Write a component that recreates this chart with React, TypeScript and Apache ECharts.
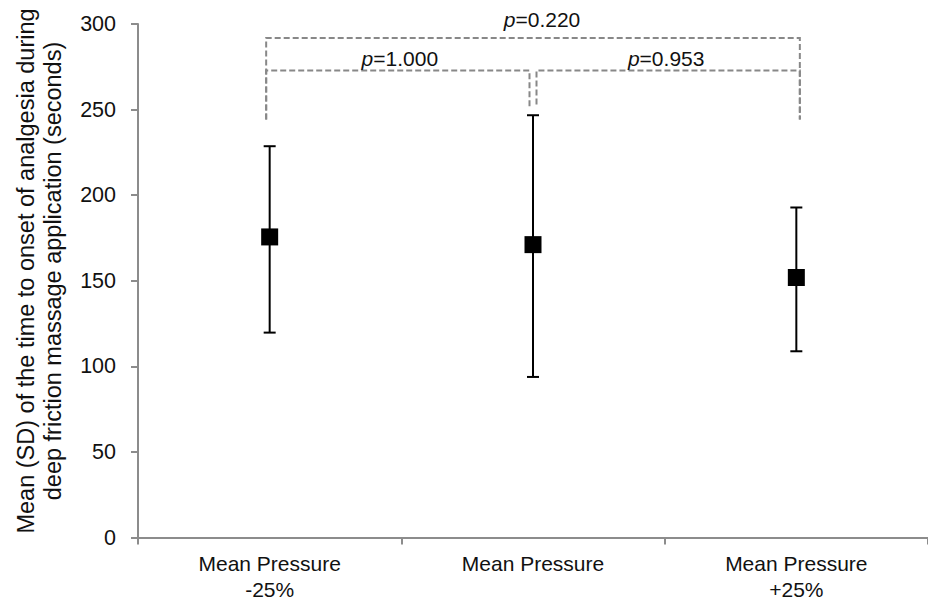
import React, { useEffect, useRef } from "react";
import * as echarts from "echarts";

// ---- data ----
const categories = ["Mean Pressure\n-25%", "Mean Pressure", "Mean Pressure\n+25%"];
const means = [175.6, 171.1, 151.9];
const lows = [119.7, 93.8, 108.8];
const highs = [228.6, 246.7, 192.8];

const yMin = 0;
const yMax = 300;
const yInterval = 50;

// comparison brackets
const bracketFrom = [0, 1, 0];
const bracketTo = [1, 2, 2];
const bracketLevels = [272.8, 272.8, 291.8];
const bracketLeftEnds = [244.2, 252.9, 244.2];
const bracketRightEnds = [251.5, 244.2, 244.2];
const bracketPValues = ["1.000", "0.953", "0.220"];

const yAxisTitle = [
  "Mean (SD) of the time to onset of analgesia during",
  "deep friction massage application (seconds)",
];

// ---- styles ----
const FONT = "'Liberation Sans', Arial, Helvetica, sans-serif";
const TEXT = "#111111";
const AXIS = "#8c8c8c";
const DASH = "#888888";
const legOffsets = [
  [-3.5, -3.5],
  [3.5, 3.5],
  [-3.5, 3.5],
];
const labelShift = [
  [2, -12],
  [-2, -12],
  [9, -19],
];

export default function App() {
  const ref = useRef<HTMLDivElement>(null);

  useEffect(() => {
    if (!ref.current) return;
    const chart = echarts.init(ref.current, null, { renderer: "svg" });

    const errData = categories.map((_, i) => [i, lows[i], highs[i]]);
    const bracketData = bracketFrom.map((f, i) => [
      f,
      bracketTo[i],
      bracketLevels[i],
      bracketLeftEnds[i],
      bracketRightEnds[i],
      i,
    ]);

    const option: any = {
      animation: false,
      backgroundColor: "#ffffff",
      grid: { left: 138, top: 24, height: 513.5, width: 803.5, containLabel: false },
      xAxis: {
        type: "category",
        data: categories,
        boundaryGap: true,
        axisLine: { show: true, lineStyle: { color: AXIS, width: 2 } },
        axisTick: { show: true, length: 7, lineStyle: { color: AXIS, width: 2 } },
        axisLabel: {
          interval: 0,
          fontSize: 21,
          lineHeight: 26,
          fontFamily: FONT,
          color: TEXT,
          margin: 13,
        },
        splitLine: { show: false },
      },
      yAxis: {
        type: "value",
        min: yMin,
        max: yMax,
        interval: yInterval,
        axisLine: { show: true, lineStyle: { color: AXIS, width: 2 } },
        axisTick: { show: true, length: 7, lineStyle: { color: AXIS, width: 2 } },
        axisLabel: { fontSize: 21.5, fontFamily: FONT, color: TEXT, margin: 22 },
        splitLine: { show: false },
      },
      graphic: [
        {
          type: "text",
          x: 39.5,
          y: 271,
          rotation: Math.PI / 2,
          style: {
            text: yAxisTitle.join("\n"),
            fontSize: 23.5,
            lineHeight: 27,
            fontFamily: FONT,
            fill: TEXT,
            align: "center",
            verticalAlign: "middle",
          },
        },
      ],
      series: [
        {
          type: "custom",
          name: "brackets",
          z: 1,
          data: bracketData,
          encode: { x: 0, y: 2 },
          renderItem: (params: any, api: any) => {
            const f = api.value(0);
            const t = api.value(1);
            const lvl = api.value(2);
            const le = api.value(3);
            const re = api.value(4);
            const idx = api.value(5);
            const off = legOffsets[idx];
            const pL = api.coord([f, le]);
            const pTopL = api.coord([f, lvl]);
            const pR = api.coord([t, re]);
            const xl = pL[0] + off[0];
            const xr = pR[0] + off[1];
            const yl = pTopL[1];
            const sh = labelShift[idx];
            return {
              type: "group",
              children: [
                {
                  type: "polyline",
                  shape: {
                    points: [
                      [xl, pL[1]],
                      [xl, yl],
                      [xr, yl],
                      [xr, pR[1]],
                    ],
                  },
                  style: {
                    stroke: DASH,
                    lineWidth: 2,
                    lineDash: [6, 3],
                    fill: "none",
                  },
                },
                {
                  type: "text",
                  x: (xl + xr) / 2 + sh[0],
                  y: yl + sh[1],
                  style: {
                    text: "{i|p}=" + bracketPValues[idx],
                    rich: {
                      i: { fontStyle: "italic", fontSize: 21, fontFamily: FONT, fill: TEXT },
                    },
                    fontSize: 21,
                    fontFamily: FONT,
                    fill: TEXT,
                    align: "center",
                    verticalAlign: "middle",
                  },
                },
              ],
            };
          },
        },
        {
          type: "custom",
          name: "sd",
          z: 2,
          data: errData,
          encode: { x: 0, y: [1, 2] },
          renderItem: (params: any, api: any) => {
            const i = api.value(0);
            const lo = api.coord([i, api.value(1)]);
            const hi = api.coord([i, api.value(2)]);
            const cap = 6;
            const st = { stroke: "#000", lineWidth: 2 };
            return {
              type: "group",
              children: [
                { type: "line", shape: { x1: lo[0], y1: lo[1], x2: hi[0], y2: hi[1] }, style: st },
                { type: "line", shape: { x1: hi[0] - cap, y1: hi[1], x2: hi[0] + cap, y2: hi[1] }, style: st },
                { type: "line", shape: { x1: lo[0] - cap, y1: lo[1], x2: lo[0] + cap, y2: lo[1] }, style: st },
              ],
            };
          },
        },
        {
          type: "scatter",
          name: "mean",
          z: 3,
          data: means,
          symbol: "rect",
          symbolSize: 17,
          itemStyle: { color: "#000", opacity: 1 },
        },
      ],
    };

    chart.setOption(option);
    return () => chart.dispose();
  }, []);

  return (
    <div
      ref={ref}
      style={{ position: "absolute", left: 0, top: 0, width: 928, height: 604 }}
    />
  );
}
